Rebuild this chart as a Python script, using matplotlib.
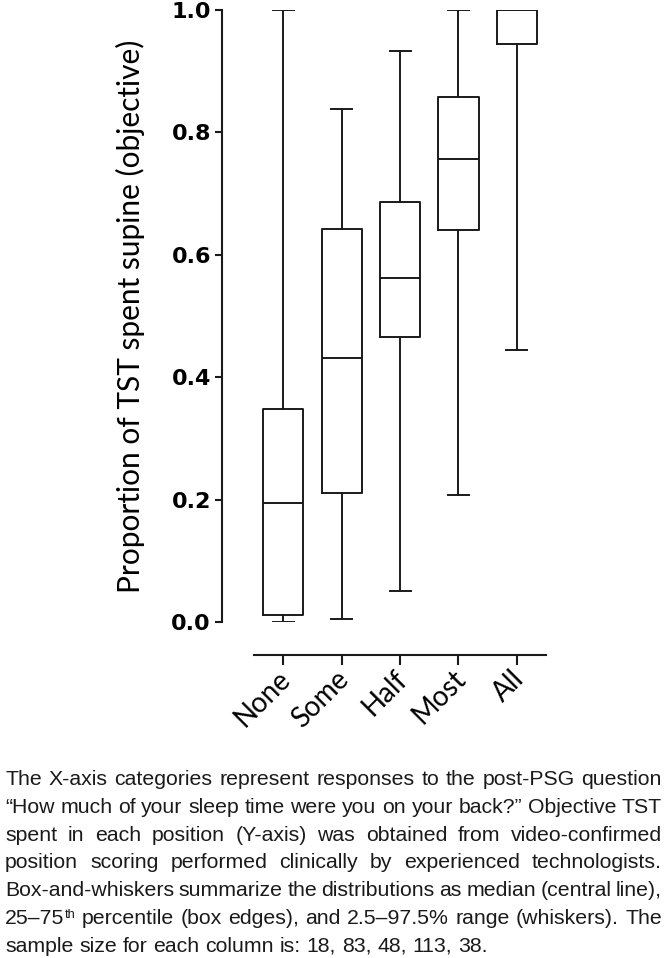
import matplotlib
matplotlib.use('Agg')
import matplotlib.pyplot as plt
from matplotlib import font_manager
from matplotlib.transforms import ScaledTranslation

# ------------------------------------------------------------
#  data
# ------------------------------------------------------------
categories = ['None', 'Some', 'Half', 'Most', 'All']
whisker_lo = [0.000, 0.005, 0.050, 0.207, 0.445]
q1         = [0.012, 0.210, 0.465, 0.640, 0.944]
median     = [0.195, 0.432, 0.562, 0.756, 1.000]
q3         = [0.348, 0.642, 0.687, 0.858, 1.000]
whisker_hi = [1.000, 0.838, 0.933, 1.000, 1.000]
y_ticks    = [0.0, 0.2, 0.4, 0.6, 0.8, 1.0]

caption_lines = [
    "The X-axis categories represent responses to the post-PSG question",
    "\u201cHow much of your sleep time were you on your back?\u201d Objective TST",
    "spent in each position (Y-axis) was obtained from video-confirmed",
    "position scoring performed clinically by experienced technologists.",
    "Box-and-whiskers summarize the distributions as median (central line),",
    "25\u201375^th percentile (box edges), and 2.5\u201397.5% range (whiskers). The",
    "sample size for each column is: 18, 83, 48, 113, 38.",
]

W, H = 666, 958
installed = {f.name for f in font_manager.fontManager.ttflist}
cap_family = 'Liberation Sans Narrow' if 'Liberation Sans Narrow' in installed else 'Liberation Sans'
lab_family = 'Lato'

fig = plt.figure(figsize=(W / 100, H / 100), dpi=100)
ax = fig.add_axes([222 / W, 1 - 622 / H, (546 - 222) / W, (622 - 10) / H])

stats = []
for i, c in enumerate(categories):
    stats.append({'label': c, 'whislo': whisker_lo[i], 'q1': q1[i], 'med': median[i],
                  'q3': q3[i], 'whishi': whisker_hi[i], 'fliers': []})

lw = 1.4
ax.bxp(stats, positions=range(1, len(categories) + 1), widths=0.69,
       showfliers=False,
       boxprops=dict(color='#1a1a1a', linewidth=lw),
       medianprops=dict(color='#1a1a1a', linewidth=lw),
       whiskerprops=dict(color='#1a1a1a', linewidth=lw),
       capprops=dict(color='#1a1a1a', linewidth=lw),
       capwidths=0.36)

ax.set_xlim(-0.05, 5.5)
ax.set_ylim(0, 1.0)
ax.spines['top'].set_visible(False)
ax.spines['right'].set_visible(False)
for s in ['left', 'bottom']:
    ax.spines[s].set_linewidth(1.5)
    ax.spines[s].set_color('#1a1a1a')
ax.spines['bottom'].set_position(('outward', 24))
ax.spines['bottom'].set_bounds(0.5, 5.5)
ax.spines['left'].set_bounds(0, 1)

ax.set_yticks(y_ticks)
ax.set_yticklabels([f'{v:.1f}' for v in y_ticks], fontsize=16, fontweight='bold',
                   family='DejaVu Sans')
ax.tick_params(axis='y', direction='out', length=5, width=1.5, pad=3, color='#1a1a1a')
ax.tick_params(axis='x', direction='out', length=7, width=1.5, pad=2, color='#1a1a1a')
ax.set_xticks(range(1, len(categories) + 1))
ax.set_xticklabels(categories, rotation=45, ha='right', rotation_mode='anchor',
                   fontsize=20, family=lab_family)
shift = ScaledTranslation(-6 / 100, 2 / 100, fig.dpi_scale_trans)
for lab in ax.get_xticklabels():
    lab.set_transform(lab.get_transform() + shift)
ax.set_ylabel('Proportion of TST spent supine (objective)', fontsize=21.5,
              family=lab_family, labelpad=19)

# ------------------------------------------------------------
#  justified caption
# ------------------------------------------------------------
renderer = fig.canvas.get_renderer()
cap_size = 15.3
x_left, x_right = 5, 662
baseline0, line_step = 785, 27.8


def word_parts(word):
    # split "25-75^th" into normal text and superscript
    if '^' in word:
        a, b = word.split('^')
        return [(a, cap_size, 0), (b, cap_size * 0.6, 6)]
    return [(word, cap_size, 0)]


def measure(text, size):
    t = fig.text(0, 0, text, fontsize=size, family=cap_family)
    w = t.get_window_extent(renderer).width
    t.remove()
    return w


space_w = measure('a a', cap_size) - measure('aa', cap_size)

for li, line in enumerate(caption_lines):
    words = line.split(' ')
    widths = [sum(measure(p, s) for p, s, _ in word_parts(w)) for w in words]
    last = li == len(caption_lines) - 1
    if last or len(words) < 2:
        gap = space_w
    else:
        gap = (x_right - x_left - sum(widths)) / (len(words) - 1)
    y = baseline0 + li * line_step
    x = x_left
    for w, wd in zip(words, widths):
        xx = x
        for p, s, rise in word_parts(w):
            fig.text(xx / W, 1 - (y - rise) / H, p, fontsize=s, family=cap_family,
                     ha='left', va='baseline', color='#1a1a1a')
            xx += measure(p, s)
        x += wd + gap

fig.savefig('out.png', dpi=100)
